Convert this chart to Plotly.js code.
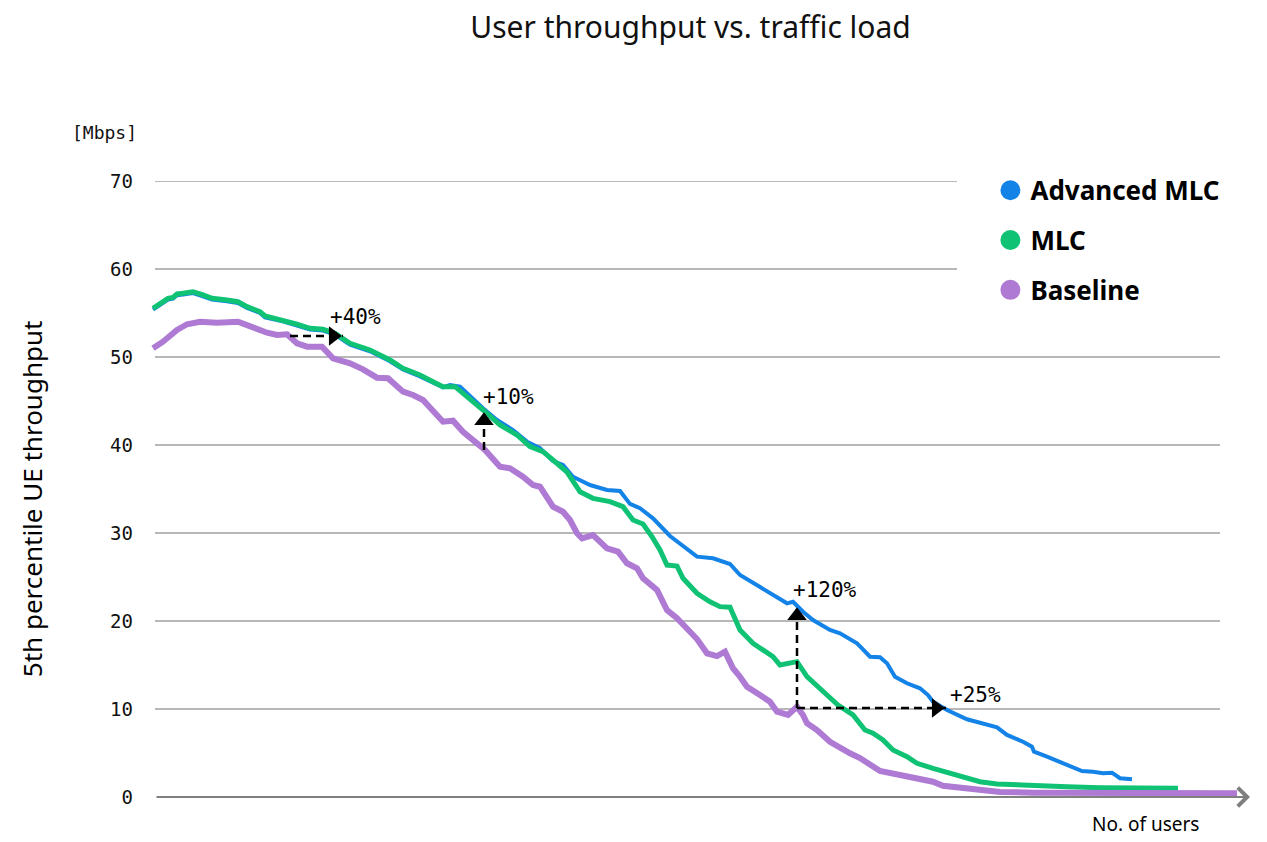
<!DOCTYPE html>
<html>
<head>
<meta charset="utf-8">
<script src="https://cdn.plot.ly/plotly-3.0.1.min.js"></script>
<style>
  body { margin: 0; background: #fff; }
  #chart { width: 1267px; height: 842px; }
</style>
</head>
<body>
<div id="chart"></div>
<script>
// series (x = no. of users, arbitrary units; y = Mbps)
var advX = [3, 10, 18, 23, 27, 33, 43, 53, 62, 77, 88, 97, 110, 115, 133, 147, 160, 173, 185, 200,
  220, 240, 253, 270, 283, 293, 300, 310, 333, 347, 363, 377, 390, 403, 413, 423, 440, 457, 470, 480,
  490, 503, 520, 533, 547, 563, 580, 590, 607, 623, 637, 643, 653, 663, 680, 690, 707, 712, 720, 730,
  737, 745, 757, 770, 778, 783, 797, 817, 837, 847, 857, 873, 882, 884, 897, 910, 923, 932, 943, 953,
  962, 970, 982];
var advY = [55.38, 55.95, 56.52, 56.63, 57.01, 57.09, 57.27, 56.90, 56.52, 56.33, 56.13, 55.57, 55.00, 54.50, 54.05, 53.57, 53.11, 53.00, 52.54, 51.41,
  50.65, 49.51, 48.57, 47.80, 47.04, 46.55, 46.82, 46.63, 44.17, 42.84, 41.70, 40.38, 39.63, 38.18, 37.73, 36.40, 35.45, 34.89, 34.77, 33.30,
  32.81, 31.67, 29.66, 28.52, 27.31, 27.13, 26.48, 25.23, 24.09, 22.95, 22.01, 22.19, 21.06, 20.11, 18.98, 18.60, 17.47, 16.90, 15.94, 15.88,
  15.19, 13.67, 12.92, 12.35, 11.59, 10.83, 9.89, 8.83, 8.18, 7.92, 7.05, 6.28, 5.72, 5.15, 4.58, 4.01, 3.44, 2.95, 2.88, 2.69,
  2.76, 2.13, 2.01];

var mlcX = [3, 10, 18, 23, 27, 33, 43, 53, 62, 77, 88, 97, 110, 115, 133, 147, 160, 173, 185, 200,
  220, 240, 253, 270, 283, 293, 305, 320, 333, 350, 367, 380, 393, 403, 417, 430, 443, 460, 473, 483,
  493, 502, 510, 517, 527, 533, 547, 560, 570, 580, 590, 603, 623, 630, 642, 647, 657, 667, 677, 688,
  703, 715, 723, 733, 743, 757, 767, 783, 807, 830, 847, 883, 917, 950, 1028];
var mlcY = [55.53, 56.10, 56.67, 56.78, 57.16, 57.24, 57.42, 57.05, 56.67, 56.48, 56.28, 55.72, 55.15, 54.66, 54.20, 53.72, 53.26, 53.15, 52.69, 51.56,
  50.80, 49.66, 48.72, 47.95, 47.19, 46.63, 46.63, 45.11, 43.98, 42.27, 41.14, 39.81, 39.24, 38.30, 36.93, 34.69, 33.94, 33.56, 32.99, 31.48,
  31.02, 29.58, 28.07, 26.36, 26.25, 24.85, 23.15, 22.19, 21.63, 21.56, 18.98, 17.47, 15.94, 15.00, 15.19, 15.38, 13.67, 12.53, 11.59, 10.45,
  9.32, 7.61, 7.24, 6.48, 5.34, 4.58, 3.83, 3.26, 2.50, 1.74, 1.48, 1.28, 1.17, 1.06, 0.99];

var baseX = [3, 13, 27, 37, 50, 67, 88, 100, 117, 127, 137, 147, 157, 172, 183, 200, 213, 227, 238, 253,
  263, 273, 283, 293, 303, 313, 327, 335, 350, 360, 373, 383, 390, 398, 403, 413, 420, 427, 432, 443,
  450, 457, 468, 477, 487, 493, 507, 513, 517, 527, 537, 547, 557, 567, 575, 583, 590, 597, 610, 620,
  627, 638, 647, 653, 657, 667, 680, 690, 700, 710, 720, 730, 750, 773, 783, 793, 810, 827, 850, 883,
  950, 1017, 1087];
var baseY = [50.99, 51.74, 53.07, 53.72, 54.01, 53.90, 54.01, 53.44, 52.76, 52.50, 52.58, 51.56, 51.17, 51.17, 49.85, 49.28, 48.60, 47.65, 47.58, 46.06,
  45.68, 45.11, 43.78, 42.65, 42.76, 41.51, 40.19, 39.43, 37.53, 37.35, 36.40, 35.45, 35.26, 33.75, 32.99, 32.42, 31.48, 29.97, 29.40, 29.77,
  29.01, 28.26, 27.88, 26.56, 25.99, 24.85, 23.52, 22.05, 21.25, 20.31, 19.17, 17.95, 16.33, 16.02, 16.51, 14.63, 13.67, 12.53, 11.59, 10.83,
  9.69, 9.32, 10.26, 9.32, 8.38, 7.61, 6.28, 5.53, 4.97, 4.43, 3.64, 2.95, 2.50, 1.93, 1.74, 1.28, 1.06, 0.72, 0.57, 0.49,
  0.49, 0.42, 0.42];

var seriesNames = ['Advanced MLC', 'MLC', 'Baseline'];
var seriesColors = ['#1483e8', '#10c274', '#ae7ad3'];
var yTicks = [0, 10, 20, 30, 40, 50, 60, 70];

// gain arrows: [x0, y0, x1, y1, label]
var gainArrows = [
  [140, 52.39, 193, 52.39, '+40%'],
  [334, 39.43, 334, 43.86, '+10%'],
  [647, 10.11, 647, 21.70, '+120%'],
  [647, 10.11, 796, 10.11, '+25%']
];
var gainLabelPos = [[178, 54.55], [331, 45.45], [641, 23.52], [798, 11.59]];

var xRange = [0, 1100], yRange = [0, 70];
var plotW = 1100, plotH = 616;
var yPerPx = (yRange[1] - yRange[0]) / plotH;
var xPerPx = (xRange[1] - xRange[0]) / plotW;

var widths = [4, 5, 6];
var xs = [advX, mlcX, baseX], ys = [advY, mlcY, baseY];
var data = [];
for (var i = 0; i < 3; i++) {
  data.push({
    x: xs[i], y: ys[i], type: 'scatter', mode: 'lines',
    name: seriesNames[i], showlegend: false, hoverinfo: 'skip',
    line: {color: seriesColors[i], width: widths[i]}
  });
}
// legend entries with round markers
for (var i = 0; i < 3; i++) {
  data.push({
    x: [null], y: [null], type: 'scatter', mode: 'markers',
    name: seriesNames[i], legendgroup: 'g' + i,
    marker: {size: 16, color: seriesColors[i], line: {width: 4, color: seriesColors[i]}}
  });
}

// arrow heads
var headX = [], headY = [], headSym = [];
var tipOff = 17 / Math.sqrt(3);
for (var i = 0; i < gainArrows.length; i++) {
  var a = gainArrows[i];
  if (a[1] == a[3]) {
    headX.push(a[2] - tipOff * xPerPx); headY.push(a[3]); headSym.push('triangle-right');
  } else {
    headX.push(a[2]); headY.push(a[3] - tipOff * yPerPx); headSym.push('triangle-up');
  }
}
data.push({
  x: headX, y: headY, type: 'scatter', mode: 'markers', showlegend: false, hoverinfo: 'skip',
  marker: {symbol: headSym, size: 17, color: '#000'}, cliponaxis: false
});

var shapes = [];
for (var i = 0; i < yTicks.length; i++) {
  if (yTicks[i] == 0) continue;
  shapes.push({
    type: 'line', xref: 'x', yref: 'y', layer: 'below',
    x0: 5, x1: yTicks[i] >= 60 ? 807 : 1070, y0: yTicks[i], y1: yTicks[i],
    line: {color: '#a0a0a0', width: 1.5}
  });
}
for (var i = 0; i < gainArrows.length; i++) {
  var a = gainArrows[i];
  shapes.push({
    type: 'line', xref: 'x', yref: 'y',
    x0: a[0], y0: a[1], x1: a[2], y1: a[3],
    line: {color: '#000', width: 2.5, dash: '8px,5px'}
  });
}

var monoFont = 'DejaVu Sans Mono';
var annotations = [];
for (var i = 0; i < gainArrows.length; i++) {
  annotations.push({
    x: gainLabelPos[i][0], y: gainLabelPos[i][1], xref: 'x', yref: 'y',
    text: gainArrows[i][4], showarrow: false, xanchor: 'left', yanchor: 'middle',
    font: {family: monoFont, size: 21, color: '#000'}
  });
}
// x axis line with open arrow head
annotations.push({
  x: 1100, y: 0, xref: 'x', yref: 'y', axref: 'x', ayref: 'y', ax: 5, ay: 0,
  text: '', showarrow: true, arrowhead: 4, arrowsize: 1.8, arrowwidth: 2, arrowcolor: '#7f7f7f', standoff: 0
});
annotations.push({
  x: -0.041, y: 1.078, xref: 'paper', yref: 'paper', xanchor: 'center', yanchor: 'middle',
  text: '[Mbps]', showarrow: false,
  font: {family: monoFont, size: 18, color: '#111'}
});
annotations.push({
  x: 0.905, y: -0.044, xref: 'paper', yref: 'paper', xanchor: 'center', yanchor: 'middle',
  text: 'No. of users', showarrow: false,
  font: {family: 'Noto Sans', size: 19, color: '#000'}
});
// y axis title
annotations.push({
  x: -0.107, y: 0.484, xref: 'paper', yref: 'paper', xanchor: 'center', yanchor: 'middle',
  text: '5th percentile UE throughput', showarrow: false, textangle: -90,
  font: {family: 'Noto Sans', size: 26, color: '#000'}
});

var layout = {
  width: 1267, height: 842,
  margin: {l: 150, r: 17, t: 181, b: 45},
  paper_bgcolor: '#fff', plot_bgcolor: '#fff',
  title: {
    text: 'User throughput vs. traffic load', xref: 'container', x: 0.545, y: 0.967,
    xanchor: 'center', yanchor: 'middle',
    font: {family: 'Noto Sans', size: 30, color: '#111'}
  },
  xaxis: {range: xRange, showgrid: false, zeroline: false, showline: false, showticklabels: false, ticks: ''},
  yaxis: {
    range: yRange, tickvals: yTicks, showgrid: false, zeroline: false, showline: false, ticks: '',
    ticklabelstandoff: 16,
    tickfont: {family: monoFont, size: 19, color: '#111'}
  },
  legend: {
    x: 0.764, xanchor: 'left', y: 1.023, yanchor: 'top', traceorder: 'grouped', tracegroupgap: 13,
    bgcolor: 'rgba(0,0,0,0)', font: {family: 'Noto Sans', size: 26, color: '#000', weight: 'bold'}
  },
  shapes: shapes,
  annotations: annotations
};

Plotly.newPlot('chart', data, layout, {displayModeBar: false, staticPlot: true});
</script>
</body>
</html>
